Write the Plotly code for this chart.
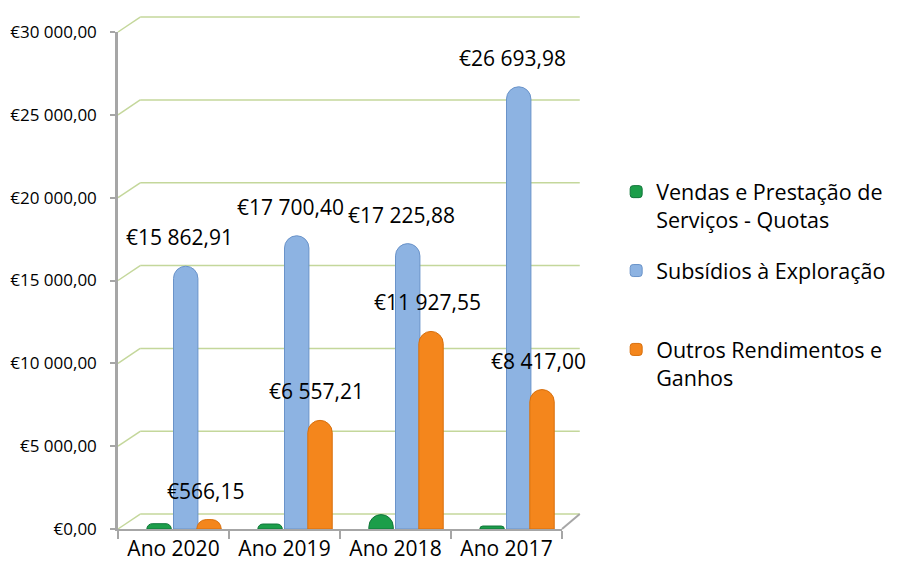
import plotly.graph_objects as go

categories = ["Ano 2020", "Ano 2019", "Ano 2018", "Ano 2017"]
series_names = ["Vendas e Prestação de<br>Serviços - Quotas", "Subsídios à Exploração<br> ", "Outros Rendimentos e<br>Ganhos"]
vendas = [320, 300, 870, 180]
subsidios = [15862.91, 17700.40, 17225.88, 26693.98]
outros = [566.15, 6557.21, 11927.55, 8417.00]
y_ticks = [0, 5000, 10000, 15000, 20000, 25000, 30000]
y_tick_labels = ["€0,00", "€5 000,00", "€10 000,00", "€15 000,00", "€20 000,00", "€25 000,00", "€30 000,00"]

FONT = "Open Sans"
colors = ["#1c9e4a", "#8db3e2", "#f4861c"]
lines = ["#11753a", "#6a93c9", "#d86f0c"]
centers = [-0.13, 0.11, 0.32]
W = 0.22

def eur(v):
    s = f"{v:,.2f}"
    return "€" + s.replace(",", " ").replace(".", ",")

fig = go.Figure()
xs = list(range(len(categories)))
for name, vals, c, lc, off in zip(series_names, [vendas, subsidios, outros], colors, lines, centers):
    fig.add_trace(go.Bar(
        x=xs, y=vals, name=name, width=W, offset=off - W / 2,
        marker=dict(color=c, line=dict(color=lc, width=1), cornerradius="50%"),
        legendgroup=name, hoverinfo="skip"))

# data labels for blue and orange series
for vals, off, xsh in [(subsidios, centers[1], -6), (outros, centers[2], -4)]:
    for i, v in enumerate(vals):
        fig.add_annotation(x=i + off, y=v, text=eur(v), showarrow=False,
                           yanchor="middle", yshift=29, xshift=xsh,
                           font=dict(family=FONT, size=21, color="#000000"))

# 3D-like walls and gridlines (paper coords)
bx0, bx1, dy = 0.05, 1.04, 0.030
shapes = []
for t in y_ticks:
    yv = t / 30000
    shapes.append(dict(type="line", xref="paper", yref="paper", x0=0, y0=yv, x1=bx0, y1=yv + dy,
                       line=dict(color="#c4d79b", width=1.5), layer="below"))
    shapes.append(dict(type="line", xref="paper", yref="paper", x0=bx0, y0=yv + dy, x1=bx1, y1=yv + dy,
                       line=dict(color="#c4d79b", width=1.5), layer="below"))
# floor right edge
shapes.append(dict(type="line", xref="paper", yref="paper", x0=1.0, y0=0, x1=bx1, y1=dy,
                   line=dict(color="#a6a6a6", width=2), layer="below"))
fig.update_layout(shapes=shapes)

fig.update_layout(
    width=902, height=571,
    margin=dict(l=110, r=348, t=24, b=50, autoexpand=False),
    paper_bgcolor="white", plot_bgcolor="rgba(0,0,0,0)",
    barmode="overlay",
    font=dict(family=FONT, color="#000000"),
    xaxis=dict(range=[-0.5, 3.5], tickvals=xs, ticktext=categories, showgrid=False,
               ticks="", showline=True, linecolor="#a6a6a6", linewidth=2, zeroline=False,
               automargin=False,
               tickfont=dict(family=FONT, size=21),
               minor=dict(tickvals=[-0.5, 0.5, 1.5, 2.5, 3.5], ticks="outside", ticklen=8,
                          tickcolor="#a6a6a6", tickwidth=1.5, showgrid=False)),
    yaxis=dict(range=[0, 30000], tickvals=y_ticks, ticktext=y_tick_labels, showgrid=False,
               ticks="outside", ticklen=5, tickcolor="#a6a6a6", tickwidth=1.5,
               showline=True, linecolor="#a6a6a6", linewidth=2.5, zeroline=False,
               automargin=False, ticklabelstandoff=10,
               tickfont=dict(family=FONT, size=17)),
    legend=dict(x=1.122, y=0.72, xanchor="left", yanchor="top", valign="top",
                font=dict(family=FONT, size=21.5), tracegroupgap=20, bgcolor="rgba(0,0,0,0)"),
    showlegend=True,
)

fig.write_html("out.html")
